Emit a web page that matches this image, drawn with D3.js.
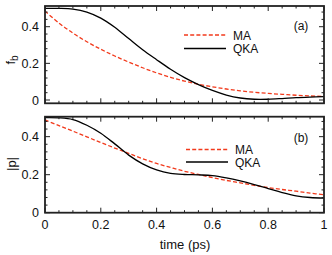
<!DOCTYPE html>
<html>
<head>
<meta charset="utf-8">
<script src="https://cdn.jsdelivr.net/npm/d3@7"></script>
<style>
  body { margin: 0; background: #fff; }
  text { font-family: "Liberation Sans", Arial, sans-serif; fill: #111; }
</style>
</head>
<body>
<div id="chart"></div>
<script>
// time grid (ps)
let times = [0, 0.05, 0.1, 0.15, 0.2, 0.25, 0.3, 0.35, 0.4, 0.45, 0.5,
             0.55, 0.6, 0.65, 0.7, 0.75, 0.8, 0.85, 0.9, 0.95, 1.0];

// panel (a): f_b
let fbMA  = [0.485, 0.420, 0.365, 0.318, 0.277, 0.240, 0.207, 0.176, 0.148, 0.124, 0.103,
             0.086, 0.072, 0.060, 0.050, 0.042, 0.036, 0.031, 0.026, 0.022, 0.019];
let fbQKA = [0.500, 0.500, 0.496, 0.480, 0.447, 0.397, 0.335, 0.274, 0.220, 0.168, 0.122,
             0.084, 0.052, 0.027, 0.011, 0.004, 0.004, 0.008, 0.013, 0.016, 0.018];

// panel (b): |p|
let pMA   = [0.488, 0.458, 0.429, 0.399, 0.369, 0.340, 0.312, 0.284, 0.259, 0.238, 0.218,
             0.201, 0.185, 0.170, 0.157, 0.144, 0.132, 0.122, 0.113, 0.103, 0.094];
let pQKA  = [0.500, 0.499, 0.490, 0.460, 0.418, 0.362, 0.303, 0.257, 0.225, 0.207, 0.201,
             0.199, 0.195, 0.183, 0.167, 0.148, 0.127, 0.106, 0.089, 0.080, 0.077];

let xTicks = [0, 0.2, 0.4, 0.6, 0.8, 1];
let xTickLabels = ['0', '0.2', '0.4', '0.6', '0.8', '1'];
let yTicks = [0, 0.2, 0.4];
let yTickLabels = ['0', '0.2', '0.4'];

let W = 332, H = 255;
let left = 45, right = 324;

let svg = d3.select('#chart').append('svg')
  .attr('width', W)
  .attr('height', H);

let x = d3.scaleLinear().domain([0, 1]).range([left, right]);

let panels = [
  { top: 6, bottom: 103.3, domain: [-0.018, 0.513], ma: fbMA, qka: fbQKA, tag: '(a)',
    tagY: 30, legY: [35, 48.5], legX: [184, 226], showX: false },
  { top: 116.7, bottom: 212.7, domain: [0, 0.505], ma: pMA, qka: pQKA, tag: '(b)',
    tagY: 142, legY: [149.5, 162], legX: [186, 228], showX: true }
];

let red = '#f23a1c';

panels.forEach(function(p, i) {
  let y = d3.scaleLinear().domain(p.domain).range([p.bottom, p.top]);
  let g = svg.append('g');

  // clip curves to the plot box
  let clipId = 'clip' + i;
  svg.append('clipPath').attr('id', clipId)
    .append('rect')
    .attr('x', left).attr('y', p.top)
    .attr('width', right - left).attr('height', p.bottom - p.top);

  let line = d3.line()
    .x(function(d) { return x(d[0]); })
    .y(function(d) { return y(d[1]); })
    .curve(d3.curveCatmullRom);

  g.append('path')
    .datum(times.map(function(t, k) { return [t, p.ma[k]]; }))
    .attr('clip-path', 'url(#' + clipId + ')')
    .attr('d', line)
    .attr('fill', 'none')
    .attr('stroke', red)
    .attr('stroke-width', 1.3)
    .attr('stroke-dasharray', '4,2.2');

  g.append('path')
    .datum(times.map(function(t, k) { return [t, p.qka[k]]; }))
    .attr('clip-path', 'url(#' + clipId + ')')
    .attr('d', line)
    .attr('fill', 'none')
    .attr('stroke', '#000')
    .attr('stroke-width', 1.3);

  // inward ticks on all four sides
  let xMinor = d3.range(0, 1.0001, 0.05);
  let yMinor = d3.range(0, p.domain[1], 0.04);
  xMinor.forEach(function(t) {
    let major = xTicks.some(function(m) { return Math.abs(m - t) < 1e-6; });
    let len = major ? 5 : 2.5;
    g.append('line').attr('x1', x(t)).attr('x2', x(t))
      .attr('y1', p.bottom).attr('y2', p.bottom - len);
    g.append('line').attr('x1', x(t)).attr('x2', x(t))
      .attr('y1', p.top).attr('y2', p.top + len);
  });
  yMinor.forEach(function(v) {
    let major = yTicks.some(function(m) { return Math.abs(m - v) < 1e-6; });
    let len = major ? 5 : 2.5;
    g.append('line').attr('x1', left).attr('x2', left + len)
      .attr('y1', y(v)).attr('y2', y(v));
    g.append('line').attr('x1', right).attr('x2', right - len)
      .attr('y1', y(v)).attr('y2', y(v));
  });
  g.selectAll('line').attr('stroke', '#222').attr('stroke-width', 1);

  // frame
  g.append('rect')
    .attr('x', left).attr('y', p.top)
    .attr('width', right - left).attr('height', p.bottom - p.top)
    .attr('fill', 'none').attr('stroke', '#222').attr('stroke-width', 1.8);

  // y tick labels
  yTicks.forEach(function(v, k) {
    g.append('text')
      .attr('x', 39).attr('y', y(v) + 4.5)
      .attr('text-anchor', 'end')
      .attr('font-size', 12.5)
      .text(yTickLabels[k]);
  });

  if (p.showX) {
    xTicks.forEach(function(t, k) {
      g.append('text')
        .attr('x', x(t)).attr('y', p.bottom + 16)
        .attr('text-anchor', 'middle')
        .attr('font-size', 12.5)
        .text(xTickLabels[k]);
    });
  }

  // panel tag
  g.append('text')
    .attr('x', 301).attr('y', p.tagY)
    .attr('text-anchor', 'middle')
    .attr('font-size', 12)
    .text(p.tag);

  // legend
  let names = ['MA', 'QKA'];
  names.forEach(function(n, k) {
    g.append('line')
      .attr('x1', p.legX[0]).attr('x2', p.legX[1])
      .attr('y1', p.legY[k]).attr('y2', p.legY[k])
      .attr('stroke', k === 0 ? red : '#000')
      .attr('stroke-width', 1.3)
      .attr('stroke-dasharray', k === 0 ? '4,2.2' : null);
    g.append('text')
      .attr('x', p.legX[1] + 7).attr('y', p.legY[k] + 4.5)
      .attr('font-size', 12)
      .text(n);
  });
});

// axis titles
let fb = svg.append('text')
  .attr('transform', 'translate(15,60) rotate(-90)')
  .attr('text-anchor', 'middle')
  .attr('font-size', 13);
fb.append('tspan').text('f');
fb.append('tspan').attr('font-size', 10).attr('dy', 3).text('b');

svg.append('text')
  .attr('transform', 'translate(16,164) rotate(-90)')
  .attr('text-anchor', 'middle')
  .attr('font-size', 13)
  .text('|p|');

svg.append('text')
  .attr('x', 185).attr('y', 249)
  .attr('text-anchor', 'middle')
  .attr('font-size', 13)
  .text('time (ps)');
</script>
</body>
</html>
